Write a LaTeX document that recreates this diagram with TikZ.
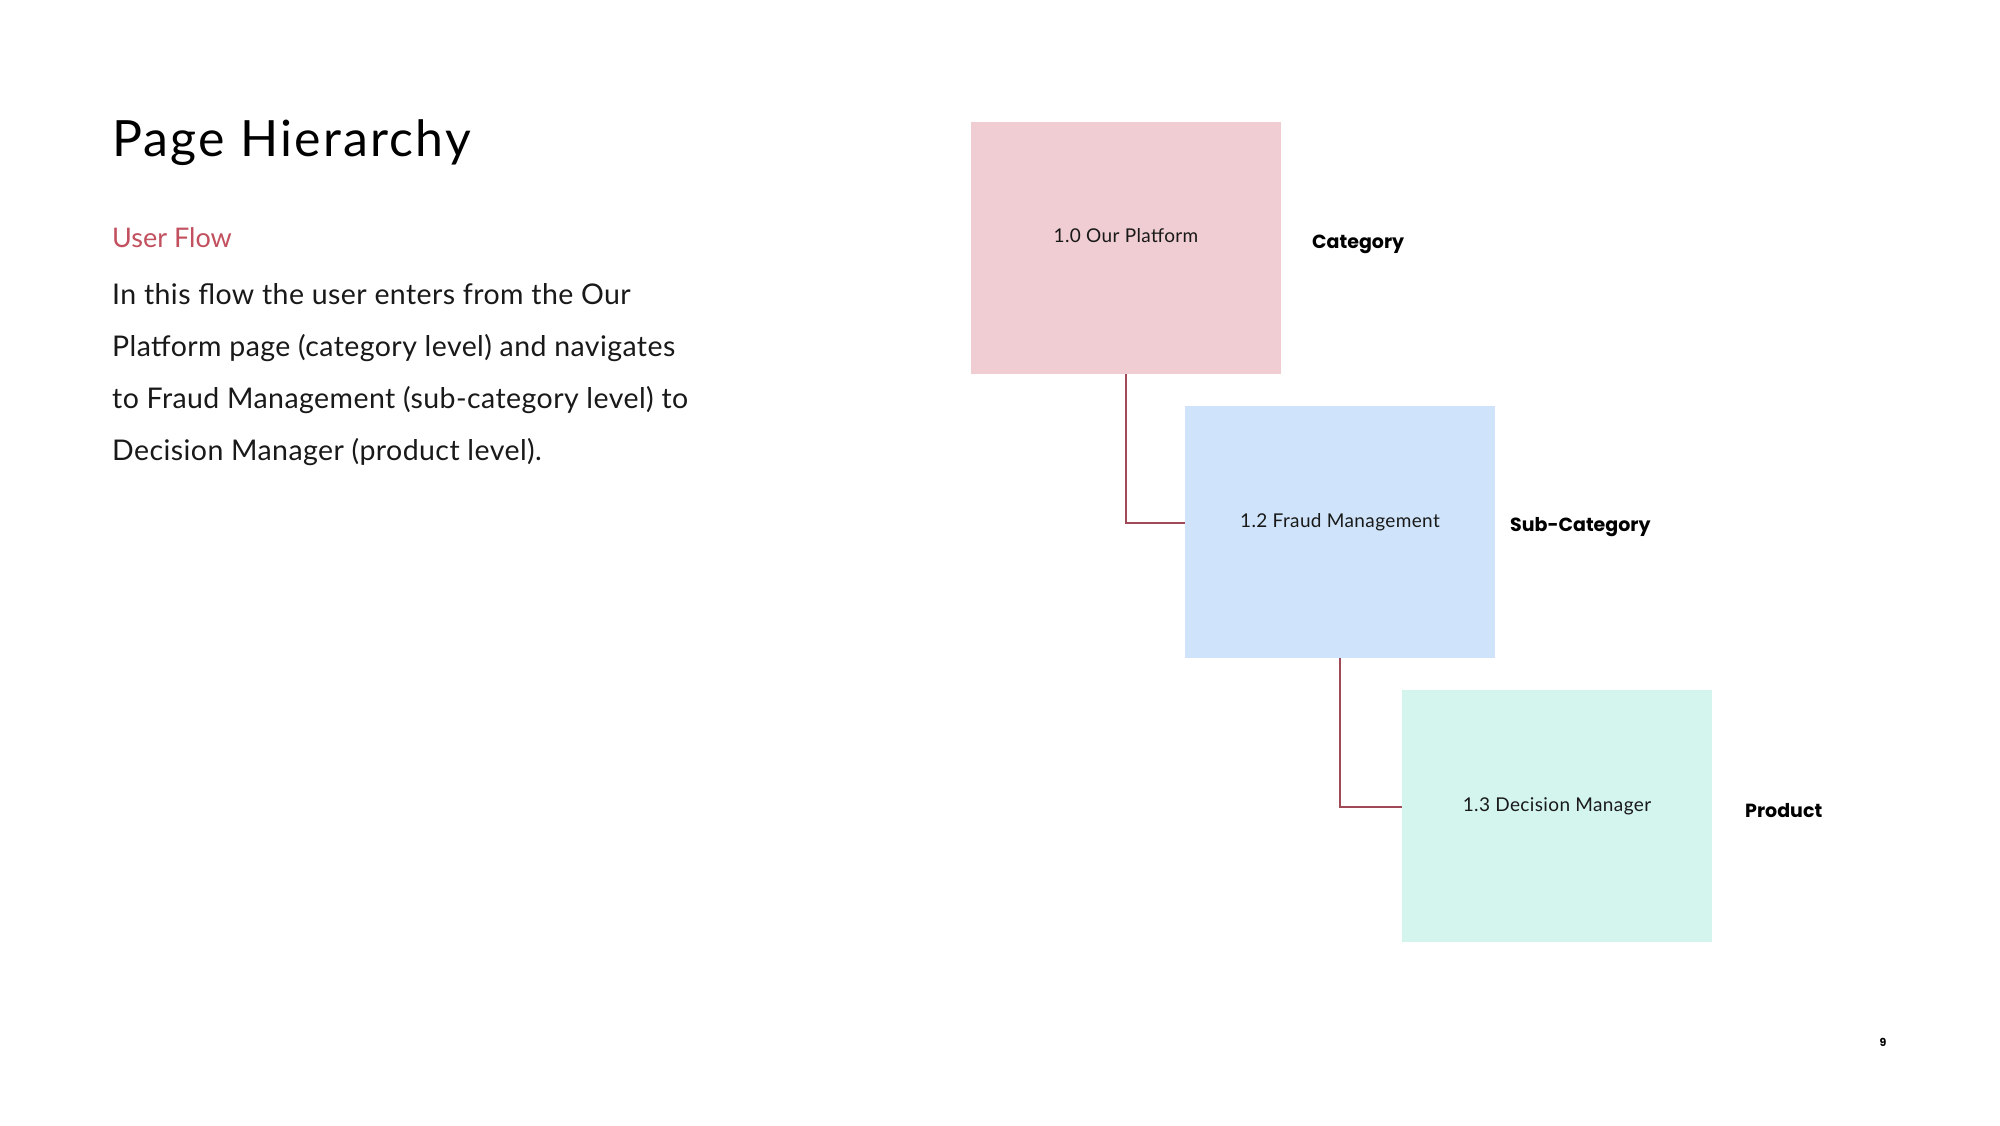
\documentclass[tikz,border=0pt]{standalone}
\usepackage{fontspec}
\setmainfont{Lato}
\newfontfamily\labelfont{Poppins}[BoldFont={* Bold}]
\definecolor{pinkbox}{HTML}{F0CDD2}
\definecolor{bluebox}{HTML}{CFE4FA}
\definecolor{mintbox}{HTML}{D4F5EE}
\definecolor{connred}{HTML}{A04A57}
\definecolor{flowred}{HTML}{C2505F}
\begin{document}
\begin{tikzpicture}[x=1pt,y=-1pt,
  pagebox/.style={minimum width=310pt,minimum height=252pt,inner sep=0pt,outer sep=0pt,anchor=north west},
  boxtext/.style={font=\fontsize{19}{22}\selectfont\addfontfeature{LetterSpace=2},text=black!90,anchor=base},
  levellabel/.style={font=\labelfont\bfseries\fontsize{19}{22}\selectfont,anchor=base west},
  bodyline/.style={font=\fontsize{28.5}{32}\selectfont\addfontfeature{LetterSpace=1.5},text=black!90,anchor=base west},
  conn/.style={draw=connred,line width=1.6pt}]
\useasboundingbox[fill=white] (0,0) rectangle (2000,1125);
% title and description
\node[anchor=base west,font=\fontsize{50}{56}\selectfont\addfontfeature{LetterSpace=4.5},inner sep=0pt] (title) at (112,156) {Page Hierarchy};
\node[anchor=base west,font=\fontsize{27}{30}\selectfont,text=flowred,inner sep=0pt] (flow) at (112,247) {User Flow};
\node[bodyline,inner sep=0pt] (l1) at (112,304) {In this flow the user enters from the Our};
\node[bodyline,inner sep=0pt] (l2) at (112,356) {Platform page (category level) and navigates};
\node[bodyline,inner sep=0pt] (l3) at (112,408) {to Fraud Management (sub-category level) to};
\node[bodyline,inner sep=0pt] (l4) at (112,460) {Decision Manager (product level).};
% boxes
\node[pagebox,fill=pinkbox] (b1) at (971,122) {};
\node[pagebox,fill=bluebox] (b2) at (1185,406) {};
\node[pagebox,fill=mintbox] (b3) at (1402,690) {};
\node[boxtext] (t1) at (1126,242) {1.0 Our Platform};
\node[boxtext] (t2) at (1340,527) {1.2 Fraud Management};
\node[boxtext] (t3) at (1557,811) {1.3 Decision Manager};
% level labels
\node[levellabel,inner sep=0pt] (c1) at (1312,248) {Category};
\node[levellabel,inner sep=0pt] (c2) at (1510,531) {Sub-Category};
\node[levellabel,inner sep=0pt] (c3) at (1745,817) {Product};
% connectors
\draw[conn] (b1.south) |- ([yshift=9pt]b2.west);
\draw[conn] (b2.south) |- ([yshift=9pt]b3.west);
% page number
\node[font=\labelfont\bfseries\fontsize{11}{12}\selectfont,anchor=base] (pg) at (1883,1046) {9};
\end{tikzpicture}
\end{document}
